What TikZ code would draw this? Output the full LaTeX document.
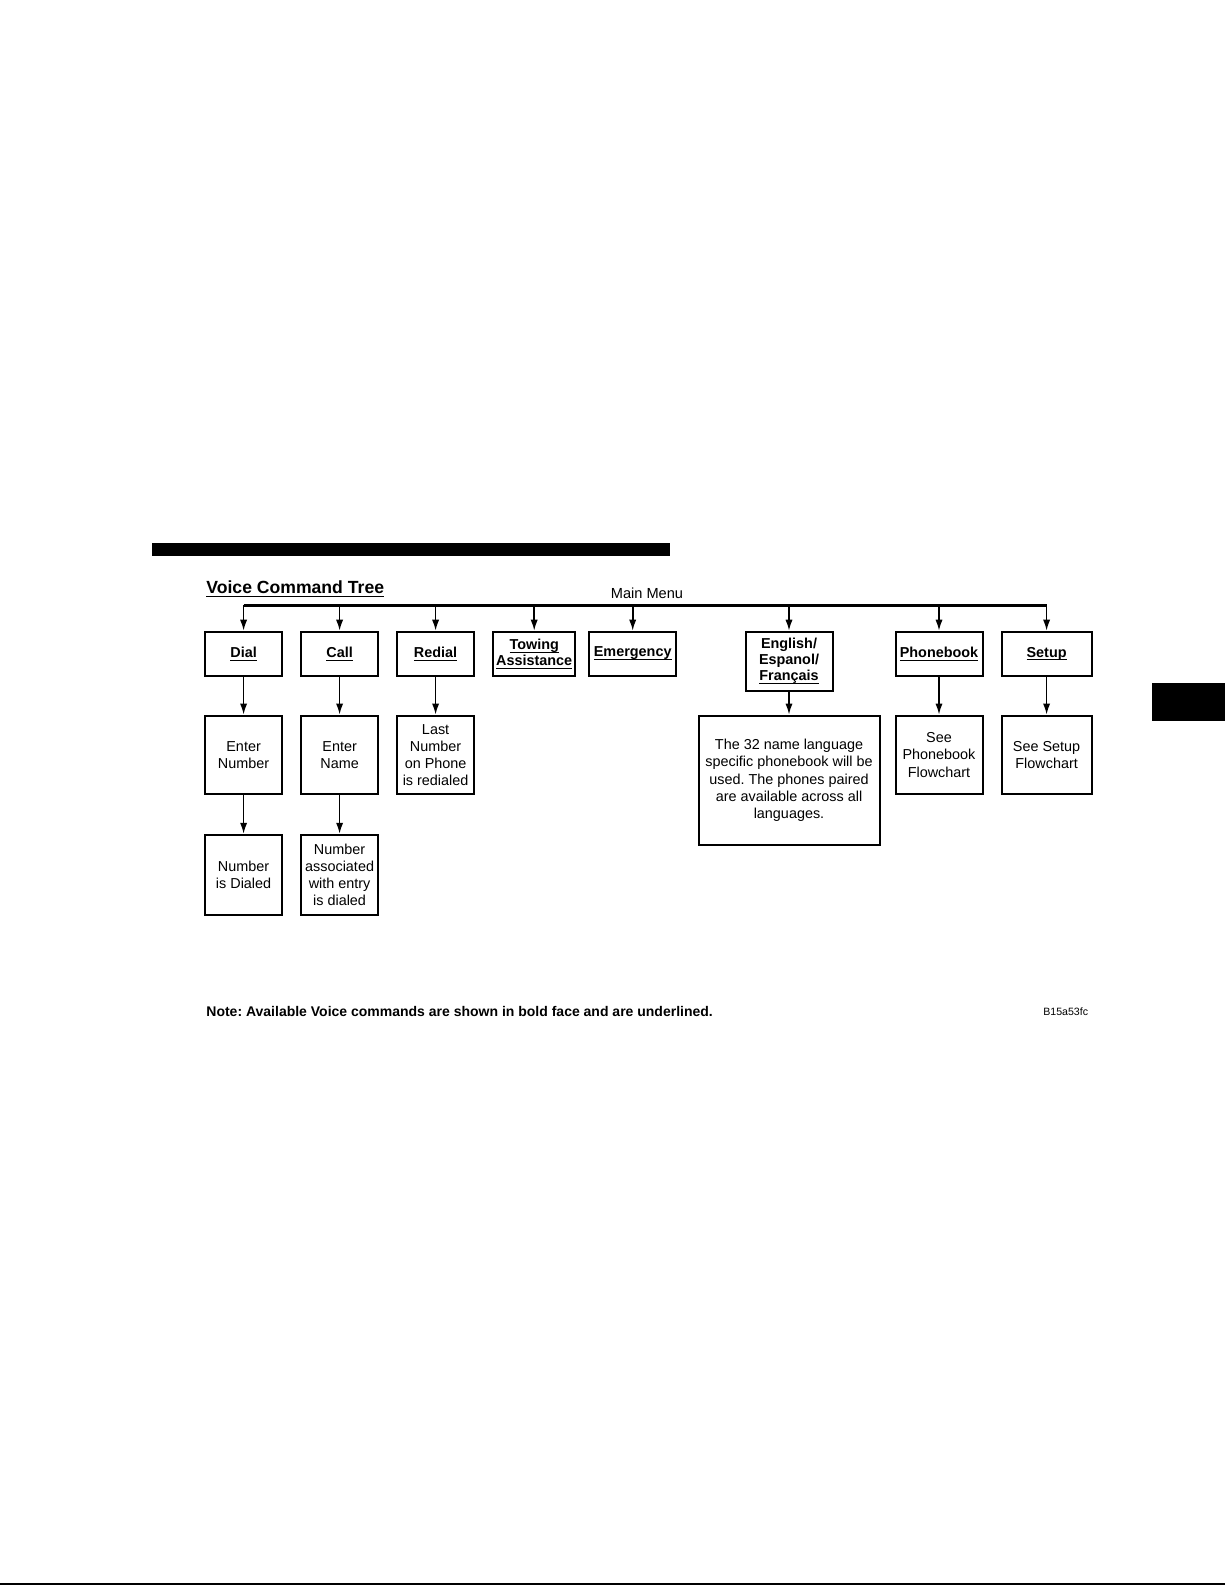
\documentclass[tikz,border=0pt]{standalone}
\usepackage{fontspec}
\setmainfont{Liberation Sans}
\usetikzlibrary{arrows.meta}
\frenchspacing

% commande vocale : gras et souligné
\newcommand{\vcmd}[1]{\underline{\raisebox{0pt}[\height][0pt]{\textbf{#1}}}}

\begin{document}
\begin{tikzpicture}[x=0.5pt, y=-0.5pt,
    >={Latex[length=5.5pt, width=3.6pt]},
    boite/.style={draw, line width=1pt, align=center, inner sep=1pt,
                  font=\fontsize{7.2}{8.6}\selectfont},
    cmd/.style={boite, minimum height=22.3pt, inner sep=0pt,
                font=\fontsize{7.2}{8.1}\selectfont},
    etape/.style={boite, minimum height=39.4pt},
    fin/.style={boite, minimum height=40pt},
    fleche/.style={->, line width=0.8pt}]

  \useasboundingbox (0,0) rectangle (1225,1585);

  % Bandeau, onglet et filet du bas de page.
  \fill (152,543) rectangle (670,556);
  \fill (1152,683) rectangle (1225,721);
  \draw[line width=0.8pt] (0,1584) -- (1225,1584);

  % Titres.
  \node[anchor=west, inner sep=0, font=\fontsize{8.8}{10}\selectfont\bfseries] (titre)
       at (206,589) {\underline{Voice Command Tree}};
  \node[font=\fontsize{7.3}{9}\selectfont] (menu) at (647,593) {Main Menu};

  % Premier niveau : les commandes du menu principal.
  \node[cmd, minimum width=38.5pt] (dial)      at (243.6,654)  {\vcmd{Dial}};
  \node[cmd, minimum width=38.5pt] (call)      at (339.6,654)  {\vcmd{Call}};
  \node[cmd, minimum width=38.5pt] (redial)    at (435.6,654)  {\vcmd{Redial}};
  \node[cmd, minimum width=41pt]   (towing)    at (534.2,654)  {\vcmd{Towing}\\ \vcmd{Assistance}};
  \node[cmd, minimum width=43.5pt] (emergency) at (632.7,654)  {\vcmd{Emergency}};
  \node[cmd, minimum width=43.5pt, minimum height=29.8pt] (langue) at (789,661.5)
       {\textbf{English/}\\ \textbf{Espanol/}\\ \vcmd{Français}};
  \node[cmd, minimum width=43.5pt] (phonebook) at (939,654)    {\vcmd{Phonebook}};
  \node[cmd, minimum width=45pt]   (setup)     at (1046.6,654) {\vcmd{Setup}};

  % Barre du menu principal et flèches vers chaque commande.
  \coordinate (mm) at (0,605.4);
  \draw[line width=1.3pt] (dial.north |- mm) -- (setup.north |- mm);
  \foreach \n in {dial,call,redial,towing,emergency,langue,phonebook,setup}
    \draw[fleche] (\n.north |- mm) -- (\n.north);

  % Deuxième niveau.
  \node[etape, minimum width=38.5pt] (enternum)  at (243.6,755)  {Enter\\ Number};
  \node[etape, minimum width=38.5pt] (entername) at (339.6,755)  {Enter\\ Name};
  \node[etape, minimum width=38.5pt] (lastnum)   at (435.6,755)
       {Last\\ Number\\ on Phone\\ is redialed};
  \node[boite, minimum width=90.5pt, minimum height=64.7pt] (langnote) at (789,780.3)
       {The 32 name language\\ specific phonebook will be\\ used. The phones paired\\
        are available across all\\ languages.};
  \node[etape, minimum width=43.5pt] (seephone)  at (939,755)    {See\\ Phonebook\\ Flowchart};
  \node[etape, minimum width=45pt]   (seesetup)  at (1046.6,755) {See Setup\\ Flowchart};

  % Troisième niveau.
  \node[fin, minimum width=38.5pt] (numdialed) at (243.6,874.8) {Number\\ is Dialed};
  \node[fin, minimum width=38.5pt] (numassoc)  at (339.6,874.8)
       {Number\\ associated\\ with entry\\ is dialed};

  % Liaisons entre niveaux.
  \draw[fleche] (dial) -- (enternum);
  \draw[fleche] (call) -- (entername);
  \draw[fleche] (redial) -- (lastnum);
  \draw[fleche] (langue) -- (langnote);
  \draw[fleche] (phonebook) -- (seephone);
  \draw[fleche] (setup) -- (seesetup);
  \draw[fleche] (enternum) -- (numdialed);
  \draw[fleche] (entername) -- (numassoc);

  % Note de bas de figure.
  \node[anchor=west, inner sep=0, font=\fontsize{7}{8}\selectfont\bfseries] (note)
       at (206,1011.7) {Note: Available Voice commands are shown in bold face and are underlined.};
  \node[anchor=east, inner sep=0, font=\fontsize{5.3}{6}\selectfont] (ref)
       at (1088.5,1011.7) {B15a53fc};

\end{tikzpicture}
\end{document}
